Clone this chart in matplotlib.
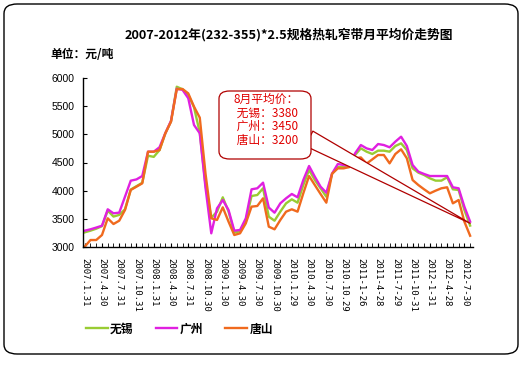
import matplotlib
matplotlib.use("Agg")
import matplotlib.pyplot as plt
from matplotlib.patches import FancyBboxPatch

plt.rcParams['font.family'] = ['Liberation Sans', 'Noto Sans CJK SC', 'DejaVu Sans']
CJK = ['Noto Sans CJK SC', 'DejaVu Sans']

# monthly average prices, 2007.01 - 2012.08
wuxi = [3260, 3290, 3325, 3370, 3645, 3540, 3570, 3670, 4020, 4080,
        4140, 4620, 4600, 4720, 5010, 5230, 5845, 5800, 5700, 5480,
        5030, 4100, 3520, 3627, 3882, 3630, 3255, 3280, 3467, 3905,
        3923, 4042, 3538, 3467, 3627, 3775, 3846, 3787, 4100, 4367,
        4189, 4042, 3893, 4300, 4420, 4420, 4420, 4633, 4751, 4692,
        4651, 4710, 4710, 4692, 4793, 4840, 4722, 4396, 4320, 4278,
        4219, 4178, 4178, 4237, 4024, 4012, 3657, 3380]
guangzhou = [3290, 3314, 3345, 3378, 3669, 3598, 3610, 3893, 4177, 4200,
             4260, 4692, 4692, 4770, 5018, 5240, 5810, 5790, 5640, 5166,
             5018, 4050, 3243, 3686, 3834, 3657, 3290, 3302, 3509, 4024,
             4042, 4142, 3700, 3609, 3775, 3864, 3941, 3882, 4189, 4438,
             4248, 4071, 3964, 4304, 4473, 4456, 4438, 4663, 4810, 4751,
             4722, 4828, 4810, 4770, 4870, 4958, 4793, 4456, 4337, 4296,
             4260, 4260, 4260, 4260, 4060, 4042, 3716, 3450]
tangshan = [3005, 3124, 3124, 3213, 3509, 3408, 3467, 3657, 4012, 4071,
            4130, 4692, 4692, 4720, 5018, 5225, 5800, 5805, 5727, 5491,
            5296, 4300, 3509, 3480, 3704, 3450, 3213, 3243, 3420, 3716,
            3728, 3864, 3361, 3314, 3479, 3627, 3669, 3627, 3953, 4260,
            4100, 3941, 3787, 4300, 4396, 4396, 4420, 4574, 4590, 4480,
            4556, 4633, 4633, 4485, 4651, 4734, 4574, 4189, 4100, 4024,
            3953, 4000, 4042, 4060, 3775, 3834, 3450, 3200]
date_labels = ["2007.1.31", "2007.4.30", "2007.7.31", "2007.10.31", "2008.1.31",
               "2008.4.30", "2008.7.31", "2008.10.30", "2009.1.30", "2009.4.30",
               "2009.7.30", "2009.10.30", "2010.1.29", "2010.4.30", "2010.7.30",
               "2010.10.29", "2011-1-26", "2011-4-28", "2011-7-29", "2011-10-31",
               "2012-1-31", "2012-4-28", "2012-7-30"]
last_avg = {"无锡": 3380, "广州": 3450, "唐山": 3200}

W, H = 529, 384
fig = plt.figure(figsize=(W / 100, H / 100), dpi=100)
ax = fig.add_axes([83 / W, 1 - 247 / H, 390 / W, 169 / H])

x = list(range(len(wuxi)))
ax.plot(x, wuxi, color='#99CC33', lw=1.7, label='无锡')
ax.plot(x, guangzhou, color='#E020E0', lw=1.7, label='广州')
ax.plot(x, tangshan, color='#F06A1E', lw=1.7, label='唐山')

ax.set_xlim(-0.3, len(wuxi) - 0.5)
ax.set_ylim(3000, 6000)
ax.set_yticks(range(3000, 6001, 500))
ax.set_xticks(range(0, len(wuxi), 3))
ax.set_xticklabels(date_labels, rotation=-90, fontsize=6.5, family='DejaVu Sans Mono')
ax.set_xticks(range(len(wuxi)), minor=True)
ax.tick_params(axis='y', direction='in', length=3, labelsize=7.5, pad=6)
ax.tick_params(axis='x', which='both', direction='in', length=3, pad=8)
for s in ['top', 'right']:
    ax.spines[s].set_visible(False)
for s in ['left', 'bottom']:
    ax.spines[s].set_linewidth(1.0)

# callout with August averages: pointer wedge, box, text
ax.annotate('', xy=(len(wuxi) - 1, guangzhou[-1] - 30), xycoords='data',
            xytext=(309 / W, 1 - 138.5 / H), textcoords='figure fraction',
            arrowprops=dict(arrowstyle='wedge,tail_width=1.2', mutation_scale=10,
                            fc='white', ec='#B00000', lw=0.9, shrinkA=0, shrinkB=0),
            zorder=5)
box = FancyBboxPatch((219 / W, 1 - 159 / H), 92 / W, 68 / H, transform=fig.transFigure,
                     boxstyle='round,pad=0,rounding_size=0.02', fc='white', ec='#B00000',
                     lw=0.9, zorder=6)
fig.patches.append(box)
txt = "8月平均价：\n" + "\n".join(f" {k}：{v}" for k, v in last_avg.items())
fig.text(266 / W, 1 - 120 / H, txt, ha='center', va='center', fontsize=8.5,
         color='#E00000', family=CJK, linespacing=1.05, zorder=7)

fig.text(289 / W, 1 - 35 / H, "2007-2012年(232-355)*2.5规格热轧窄带月平均价走势图",
         ha='center', va='center', fontsize=9.2, fontweight='bold', family=CJK)
fig.text(50 / W, 1 - 54 / H, "单位：元/吨", ha='left', va='center',
         fontsize=8.5, fontweight='bold', family=CJK)

leg = fig.legend(loc='center left', bbox_to_anchor=(86 / W, 1 - 329 / H), ncol=3,
                 frameon=False, handlelength=1.85, handletextpad=0.2, columnspacing=1.85,
                 borderpad=0, borderaxespad=0, prop={'family': CJK, 'weight': 'bold', 'size': 8.5})

frame = FancyBboxPatch((4 / W, 1 - 354 / H), 514 / W, 350 / H, transform=fig.transFigure,
                       boxstyle='round,pad=0,rounding_size=0.025', fc='none', ec='black', lw=1.0)
fig.patches.append(frame)

fig.savefig("out.png", dpi=100)
